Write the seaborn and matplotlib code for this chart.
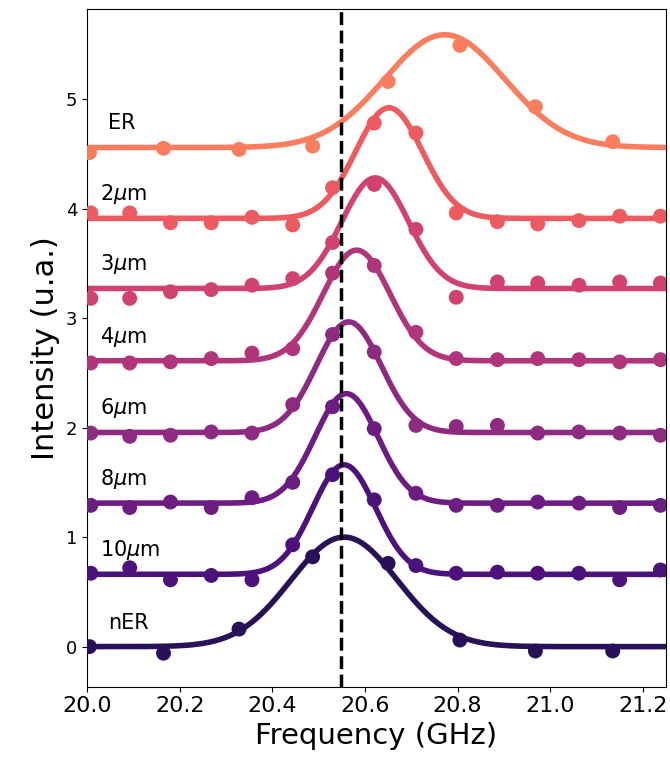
import numpy as np
import matplotlib
matplotlib.use("Agg")
import matplotlib.pyplot as plt
import seaborn as sns

# sample labels, bottom to top
labels = ['nER', r'10$\mu$m', r'8$\mu$m', r'6$\mu$m', r'4$\mu$m', r'3$\mu$m', r'2$\mu$m', 'ER']

# measured frequencies (GHz)
freq_coarse = [20.005, 20.165, 20.328, 20.487, 20.650, 20.805, 20.968, 21.135]
freq_fine = [20.008, 20.092, 20.180, 20.268, 20.356, 20.444, 20.530, 20.620,
             20.710, 20.797, 20.886, 20.973, 21.062, 21.150, 21.238]

# measured intensities (already offset)
i_nER = [0.00, -0.06, 0.16, 0.82, 0.76, 0.06, -0.04, -0.04]
i_10 = [0.67, 0.72, 0.61, 0.65, 0.61, 0.93, 1.57, 1.34, 0.74, 0.67, 0.68, 0.67, 0.67, 0.61, 0.70]
i_8 = [1.29, 1.27, 1.32, 1.27, 1.36, 1.50, 2.19, 1.99, 1.40, 1.29, 1.29, 1.32, 1.31, 1.27, 1.29]
i_6 = [1.95, 1.92, 1.93, 1.96, 1.95, 2.21, 2.85, 2.69, 2.02, 2.01, 2.02, 1.95, 1.96, 1.95, 1.93]
i_4 = [2.59, 2.59, 2.60, 2.63, 2.68, 2.72, 3.41, 3.48, 2.87, 2.63, 2.62, 2.63, 2.62, 2.60, 2.62]
i_3 = [3.18, 3.18, 3.24, 3.26, 3.30, 3.36, 3.69, 4.22, 3.81, 3.19, 3.33, 3.32, 3.30, 3.33, 3.32]
i_2 = [3.96, 3.96, 3.87, 3.87, 3.92, 3.85, 4.19, 4.78, 4.69, 3.96, 3.88, 3.86, 3.89, 3.93, 3.93]
i_ER = [4.51, 4.55, 4.54, 4.57, 5.16, 5.49, 4.93, 4.61]

# gaussian fit parameters
fit_offset = [0.00, 0.66, 1.31, 1.955, 2.61, 3.27, 3.91, 4.557]
fit_amp = [1.00, 1.00, 1.00, 1.01, 1.01, 1.01, 1.01, 1.03]
fit_center = [20.555, 20.555, 20.560, 20.565, 20.582, 20.622, 20.652, 20.772]
fit_sigma = [0.115, 0.068, 0.068, 0.070, 0.072, 0.072, 0.072, 0.130]

resonance = 20.548

data_x = [freq_coarse] + [freq_fine] * 6 + [freq_coarse]
data_y = [i_nER, i_10, i_8, i_6, i_4, i_3, i_2, i_ER]

cmap = sns.color_palette("magma", as_cmap=True)
colors = [cmap(v) for v in np.linspace(0.16, 0.73, 8)]

fig, ax = plt.subplots(figsize=(6.7, 7.68), dpi=100)
fig.subplots_adjust(left=0.130, right=0.994, top=0.988, bottom=0.106)

xf = np.linspace(19.9, 21.4, 600)
for k in range(8):
    yf = fit_offset[k] + fit_amp[k] * np.exp(-(xf - fit_center[k])**2 / (2 * fit_sigma[k]**2))
    sns.lineplot(x=xf, y=yf, color=colors[k], lw=4, ax=ax, zorder=2)
    sns.scatterplot(x=data_x[k], y=data_y[k], color=colors[k], s=115,
                    edgecolor='none', ax=ax, zorder=3)
    tx = 20.045 if 'ER' in labels[k] else 20.028
    ax.text(tx, fit_offset[k] + 0.22, labels[k], fontsize=15, va='center', ha='left')

ax.axvline(resonance, color=cmap(0.0), ls='--', lw=2.5, zorder=5)

ax.set_xlim(20.0, 21.25)
ax.set_ylim(-0.365, 5.82)
ax.set_xticks([20.0, 20.2, 20.4, 20.6, 20.8, 21.0, 21.2])
ax.set_yticks([0, 1, 2, 3, 4, 5])
ax.tick_params(axis='x', labelsize=16)
ax.tick_params(axis='y', labelsize=13)
ax.set_xlabel('Frequency (GHz)', fontsize=21)
ax.set_ylabel('Intensity (u.a.)', fontsize=22)

fig.savefig('out.png', dpi=100)
